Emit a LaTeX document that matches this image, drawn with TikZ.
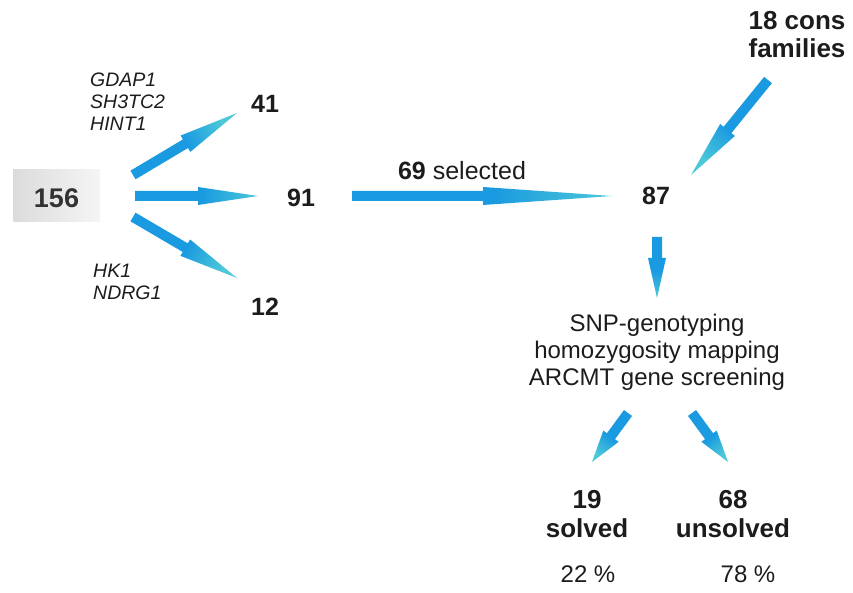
\documentclass[tikz,border=0pt]{standalone}
\usepackage{fontspec}
\setmainfont{Liberation Sans}
\usetikzlibrary{calc}
\definecolor{arrdark}{HTML}{1A9AE0}
\definecolor{arrlight}{HTML}{4CC8D8}
\definecolor{txt}{HTML}{1C1C1C}
\pgfdeclareverticalshading{arrshade}{100bp}{color(0bp)=(arrdark); color(52bp)=(arrdark); color(75bp)=(arrlight); color(100bp)=(arrlight)}
\newcommand\blarrow[5]{%
  \pgfmathanglebetweenpoints{\pgfpointanchor{#1}{center}}{\pgfpointanchor{#2}{center}}%
  \pgfmathsetmacro\arrshadeang{\pgfmathresult-90}%
  \coordinate (hb) at ($(#2)!#5!(#1)$);
  \shade[shading=arrshade, shading angle=\arrshadeang]
    ($(#1)!#3!90:(#2)$) -- ($(hb)!#3!90:(#2)$) -- ($(hb)!#4!90:(#2)$) -- (#2)
    -- ($(hb)!#4!-90:(#2)$) -- ($(hb)!#3!-90:(#2)$) -- ($(#1)!#3!-90:(#2)$) -- cycle;
}
\tikzset{
  lbl/.style={text=txt, inner sep=0pt, anchor=base, align=center},
  gene/.style={text=txt, inner sep=0pt, anchor=base west, align=left, font=\fontsize{19.5}{22}\selectfont\itshape},
  num/.style={lbl, font=\fontsize{25}{30}\selectfont\bfseries},
}
\begin{document}
\begin{tikzpicture}[x=1pt,y=-1pt]
\useasboundingbox (0,0) rectangle (853,593);
% box
\node[left color=black!14, right color=black!4, minimum width=87pt, minimum height=52pt, inner sep=0pt] (box) at (56.5,196) {};
\node[lbl, text=black!80, font=\fontsize{27}{32}\selectfont\bfseries] (n156) at (56.5,208) {156};
% genes
\node[gene] (g1) at (90,131) {GDAP1\\SH3TC2\\HINT1};
\node[gene] (g2) at (93,300) {HK1\\NDRG1};
% numbers
\node[num] (n41) at (265,113) {41};
\node[num] (n91) at (301,207) {91};
\node[num] (n12) at (265,315) {12};
\node[lbl, font=\fontsize{25}{30}\selectfont] (sel) at (462,180) {\textbf{69} selected};
\node[num] (n87) at (656,205) {87};
\node[lbl, font=\fontsize{26}{28}\selectfont\bfseries] (cons) at (797,58) {18 cons\\families};
\node[lbl, font=\fontsize{24}{27}\selectfont] (snp) at (657,385) {SNP-genotyping\\homozygosity mapping\\ARCMT gene screening};
\node[lbl, font=\fontsize{26}{29}\selectfont\bfseries] (solved) at (587,537) {19\\solved};
\node[lbl, font=\fontsize{26}{29}\selectfont\bfseries] (unsolved) at (733,537) {68\\unsolved};
\node[lbl, font=\fontsize{24}{28}\selectfont] (p22) at (588,582) {22 \%};
\node[lbl, font=\fontsize{24}{28}\selectfont] (p78) at (748,582) {78 \%};
% arrow ends
\coordinate (a1s) at (133,175); \coordinate (a1e) at (237,113);
\coordinate (a2s) at (135,196); \coordinate (a2e) at (258,196);
\coordinate (a3s) at (133,217); \coordinate (a3e) at (237,278);
\coordinate (a4s) at (352,196); \coordinate (a4e) at (612,196);
\coordinate (a5s) at (768,80);  \coordinate (a5e) at (691,175);
\coordinate (a6s) at (657,237); \coordinate (a6e) at (657,298);
\coordinate (a7s) at (628,413); \coordinate (a7e) at (592,462);
\coordinate (a8s) at (692,413); \coordinate (a8e) at (728,462);
\blarrow{a1s}{a1e}{5pt}{9.5pt}{60pt}
\blarrow{a2s}{a2e}{5pt}{9pt}{60pt}
\blarrow{a3s}{a3e}{5pt}{9.5pt}{60pt}
\blarrow{a4s}{a4e}{5pt}{9pt}{129pt}
\blarrow{a5s}{a5e}{5pt}{9.5pt}{58pt}
\blarrow{a6s}{a6e}{5pt}{9pt}{40pt}
\blarrow{a7s}{a7e}{5pt}{9.5pt}{32pt}
\blarrow{a8s}{a8e}{5pt}{9.5pt}{32pt}
\end{tikzpicture}
\end{document}
